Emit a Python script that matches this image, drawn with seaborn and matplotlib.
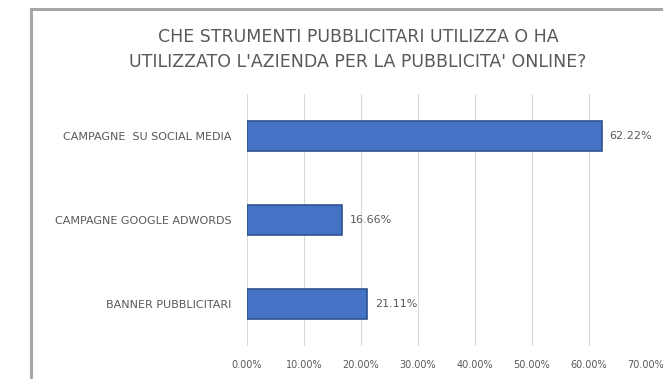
import matplotlib
matplotlib.use("Agg")
import matplotlib.pyplot as plt
import seaborn as sns
import pandas as pd
from matplotlib.patches import Rectangle
from matplotlib.ticker import FuncFormatter, MultipleLocator

# Survey answers: share of companies using each online advertising tool (%)
categories = ["CAMPAGNE  SU SOCIAL MEDIA", "CAMPAGNE GOOGLE ADWORDS", "BANNER PUBBLICITARI"]
values = [62.22, 16.66, 21.11]
title_lines = ["CHE STRUMENTI PUBBLICITARI UTILIZZA O HA",
               "UTILIZZATO L'AZIENDA PER LA PUBBLICITA' ONLINE?"]

sns.set_theme(style="white")
plt.rcParams["font.family"] = ["DejaVu Sans"]

TEXT = "#595959"

fig = plt.figure(figsize=(6.63, 3.79), dpi=100)
fig.patch.set_facecolor("white")
ax = fig.add_axes([247 / 663, 1 - 346 / 379, 399 / 663, 252 / 379])

df = pd.DataFrame({"strumento": categories, "quota": values})
sns.barplot(data=df, x="quota", y="strumento", orient="h", color="#4472C4",
            saturation=1, width=0.36, edgecolor="#2F528F", linewidth=1.2, ax=ax)

ax.set_xlim(0, 70)
ax.xaxis.set_major_locator(MultipleLocator(10))
ax.xaxis.set_major_formatter(FuncFormatter(lambda v, _: f"{v:.2f}%"))
ax.grid(axis="x", color="#D9D9D9", linewidth=0.8)
ax.grid(axis="y", visible=False)
ax.set_axisbelow(True)
for s in ax.spines.values():
    s.set_visible(False)
ax.tick_params(axis="x", length=0, labelsize=7, labelcolor=TEXT, pad=10)
ax.tick_params(axis="y", length=0, labelsize=8, labelcolor=TEXT, pad=11)
ax.set_xlabel("")
ax.set_ylabel("")

for i, v in enumerate(values):
    ax.text(v + 1.4, i, f"{v:.2f}%", va="center", ha="left", fontsize=8, color=TEXT)

fig.text(358 / 663, 1 - 37 / 379, title_lines[0], ha="center", va="center",
         fontsize=12.5, color=TEXT)
fig.text(358 / 663, 1 - 62 / 379, title_lines[1], ha="center", va="center",
         fontsize=12.5, color=TEXT)

# chart frame, running past the right and bottom edges
fig.add_artist(Rectangle((31 / 663, -0.2), 1.5, 1.2 - 9 / 379,
                         transform=fig.transFigure, fill=False,
                         edgecolor="#A6A6A6", linewidth=2.2))

fig.savefig("out.png", dpi=100)
